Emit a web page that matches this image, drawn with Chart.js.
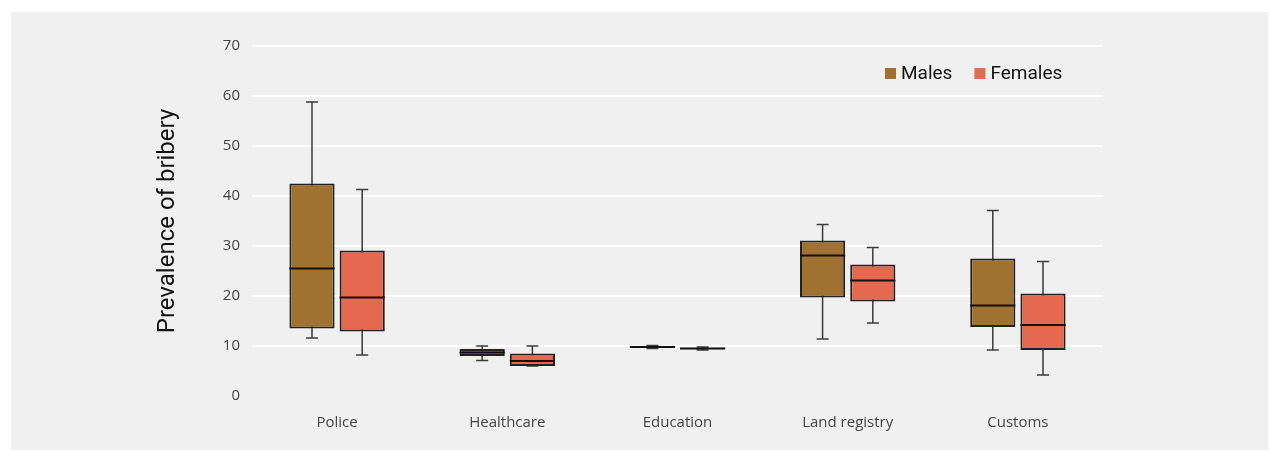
<!DOCTYPE html>
<html>
<head>
<meta charset="utf-8">
<script src="https://cdn.jsdelivr.net/npm/chart.js@4.4.1/dist/chart.umd.min.js"></script>
<style>
  body { margin: 0; background: #ffffff; }
  #panel { position: absolute; left: 11px; top: 12px; width: 1257px; height: 438px; background: #f0f0f0; }
</style>
</head>
<body>
<div id="panel"><canvas id="chart"></canvas></div>
<script>
// Box plot values (prevalence of bribery, %)
const categories = ['Police', 'Healthcare', 'Education', 'Land registry', 'Customs'];

const malesMin    = [11.6, 7.1, 9.5, 11.4, 9.2];
const malesQ1     = [13.5, 8.0, 9.65, 19.7, 13.8];
const malesMedian = [25.5, 8.7, 9.8, 28.1, 18.1];
const malesQ3     = [42.5, 9.4, 9.95, 31.1, 27.5];
const malesMax    = [58.8, 10.0, 10.1, 34.3, 37.1];

const femalesMin    = [8.2, 6.0, 9.2, 14.6, 4.2];
const femalesQ1     = [12.9, 6.0, 9.35, 18.9, 9.2];
const femalesMedian = [19.7, 7.0, 9.5, 23.1, 14.2];
const femalesQ3     = [29.1, 8.5, 9.65, 26.3, 20.5];
const femalesMax    = [41.3, 10.0, 9.8, 29.7, 26.9];

const yTicks = [0, 10, 20, 30, 40, 50, 60, 70];

const maleColor = '#a07232';
const femaleColor = '#e5694f';

// whiskers and medians for each box, keyed by dataset index
const boxStats = [
  { min: malesMin, median: malesMedian, max: malesMax },
  { min: femalesMin, median: femalesMedian, max: femalesMax }
];

/**
 * Draws whiskers behind the boxes and medians on top of them.
 */
const boxplotPlugin = {
  id: 'boxplot',
  beforeDatasetsDraw(chart) {
    const ctx = chart.ctx;
    const y = chart.scales.y;
    ctx.save();
    ctx.strokeStyle = '#3a3a3a';
    ctx.lineWidth = 1.5;
    boxStats.forEach((stats, di) => {
      chart.getDatasetMeta(di).data.forEach((bar, i) => {
        const top = y.getPixelForValue(stats.max[i]);
        const bottom = y.getPixelForValue(stats.min[i]);
        const cap = 6;
        ctx.beginPath();
        ctx.moveTo(bar.x, top);
        ctx.lineTo(bar.x, bottom);
        ctx.moveTo(bar.x - cap, top);
        ctx.lineTo(bar.x + cap, top);
        ctx.moveTo(bar.x - cap, bottom);
        ctx.lineTo(bar.x + cap, bottom);
        ctx.stroke();
      });
    });
    ctx.restore();
  },
  afterDatasetsDraw(chart) {
    const ctx = chart.ctx;
    const y = chart.scales.y;
    ctx.save();
    ctx.strokeStyle = '#111111';
    ctx.lineWidth = 2;
    boxStats.forEach((stats, di) => {
      chart.getDatasetMeta(di).data.forEach((bar, i) => {
        const my = y.getPixelForValue(stats.median[i]);
        ctx.beginPath();
        ctx.moveTo(bar.x - bar.width / 2, my);
        ctx.lineTo(bar.x + bar.width / 2, my);
        ctx.stroke();
      });
    });
    ctx.restore();
  }
};

/**
 * Small legend in the top right of the plot.
 */
const legendPlugin = {
  id: 'cornerLegend',
  afterDraw(chart) {
    const ctx = chart.ctx;
    const area = chart.chartArea;
    let x = area.right - 218;
    const cy = area.top + 28;
    ctx.save();
    ctx.font = '19px Roboto';
    ctx.textBaseline = 'middle';
    chart.data.datasets.forEach(ds => {
      ctx.fillStyle = ds.backgroundColor;
      ctx.fillRect(x, cy - 6, 11, 11);
      ctx.fillStyle = '#111111';
      ctx.fillText(ds.label, x + 16, cy);
      x += 16 + ctx.measureText(ds.label).width + 22;
    });
    ctx.restore();
  }
};

function ranges(lo, hi) {
  return lo.map((v, i) => [v, hi[i]]);
}

const ctx = document.getElementById('chart').getContext('2d');
new Chart(ctx, {
  type: 'bar',
  data: {
    labels: categories,
    datasets: [
      {
        label: 'Males',
        data: ranges(malesQ1, malesQ3),
        backgroundColor: maleColor,
        borderColor: '#222222',
        borderWidth: 2,
        borderSkipped: false
      },
      {
        label: 'Females',
        data: ranges(femalesQ1, femalesQ3),
        backgroundColor: femaleColor,
        borderColor: '#222222',
        borderWidth: 2,
        borderSkipped: false
      }
    ]
  },
  options: {
    responsive: true,
    maintainAspectRatio: false,
    animation: false,
    categoryPercentage: 0.59,
    barPercentage: 0.9,
    layout: { padding: { left: 139, right: 165, top: 34, bottom: 0 } },
    plugins: {
      legend: { display: false },
      tooltip: { enabled: false }
    },
    scales: {
      x: {
        grid: { display: false, drawTicks: false },
        border: { display: false },
        ticks: { padding: 18, color: '#444444', font: { family: 'Open Sans', size: 15 } },
        afterFit(scale) { scale.height = 54; }
      },
      y: {
        min: 0,
        max: 70,
        afterBuildTicks(scale) { scale.ticks = yTicks.map(v => ({ value: v })); },
        grid: {
          drawTicks: false,
          lineWidth: 2,
          color: c => (c.tick && c.tick.value === 0) ? 'rgba(0,0,0,0)' : '#ffffff'
        },
        border: { display: false },
        ticks: { padding: 12, color: '#444444', font: { family: 'Open Sans', size: 15 } },
        title: {
          display: true,
          text: 'Prevalence of bribery',
          color: '#111111',
          font: { family: 'Roboto', size: 24 }
        },
        afterFit(scale) { scale.width = 102; }
      }
    }
  },
  plugins: [boxplotPlugin, legendPlugin]
});
</script>
</body>
</html>
